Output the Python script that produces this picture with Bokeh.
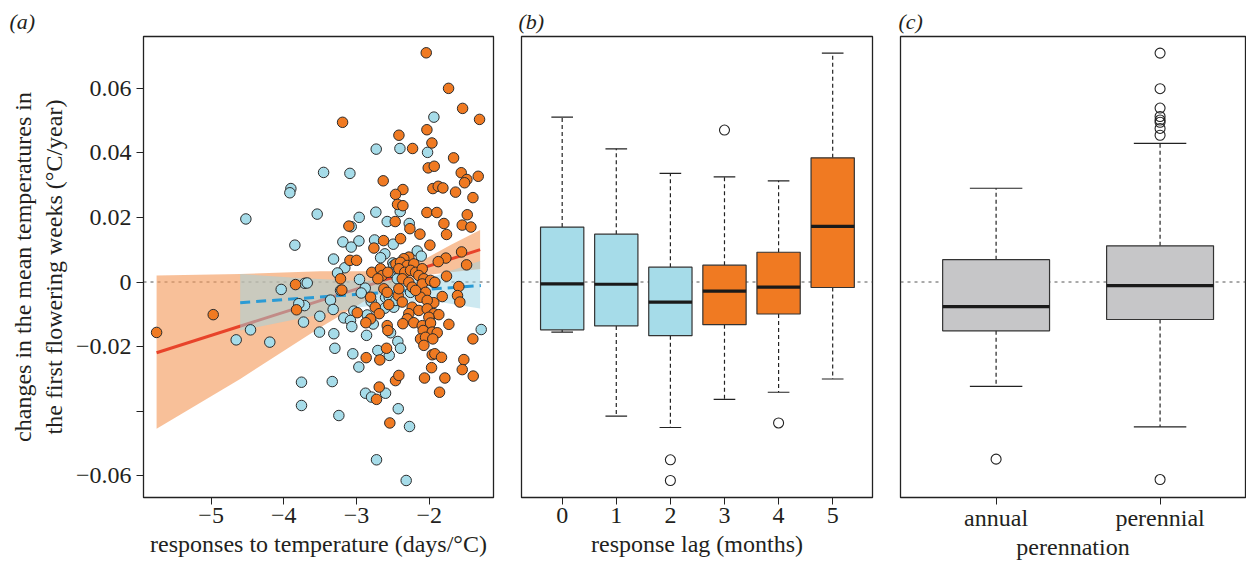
from bokeh.plotting import figure
from bokeh.layouts import row
from bokeh.models import Range1d, FixedTicker, Span, Title
from bokeh.embed import file_html
from bokeh.resources import INLINE

# ---------------- panel (a) data ----------------
orange_x = [-2.041, -1.734, -1.541, -1.308, -3.192, -2.032, -1.963, -2.417, -2.229, -1.665,
            -2.014, -1.931, -1.560, -1.482, -1.514, -1.326, -2.633, -2.362, -2.463, -1.950,
            -1.876, -1.812, -1.638, -1.399, -2.436, -2.362, -2.032, -1.895, -1.477, -2.468,
            -1.798, -1.546, -1.427, -3.105, -2.266, -2.128, -1.762, -2.628, -2.394, -2.761,
            -1.991, -1.555, -1.771, -1.876, -3.091, -3.000, -2.280, -1.486,
            -3.220, -3.202, -2.790, -2.670, -2.647, -2.569, -2.459, -2.707, -2.624, -2.807,
            -2.743, -2.578, -2.556, -2.688, -2.807, -2.990, -2.872, -2.578,
            -2.349, -2.395, -2.303, -2.212, -2.418, -2.336, -2.257, -2.188, -2.096, -2.143,
            -2.074, -1.762, -2.371, -2.281, -2.234, -2.096, -1.982, -1.923, -1.593, -1.611,
            -1.579, -1.821, -1.937, -2.051, -2.120, -2.028, -2.188, -2.427, -2.418, -2.371,
            -2.234, -2.143, -2.028, -1.937, -1.868, -2.005, -2.281, -2.303, -2.363, -2.212,
            -2.096, -1.982, -1.730,
            -2.569, -2.587, -2.680, -2.867, -2.688, -2.725, -2.464, -2.418, -2.542,
            -2.083, -1.959, -1.890, -2.120, -2.051, -1.951, -2.074, -1.400, -1.959, -1.923,
            -1.831, -1.524, -1.968, -1.546, -1.395, -2.065, -1.785, -1.858,
            -5.750, -4.971, -3.839, -3.825]
orange_y = [0.0709, 0.0599, 0.0537, 0.0503, 0.0494, 0.0471, 0.0430, 0.0454, 0.0413, 0.0384,
            0.0353, 0.0358, 0.0338, 0.0317, 0.0307, 0.0327, 0.0313, 0.0286, 0.0271, 0.0289,
            0.0296, 0.0291, 0.0278, 0.0261, 0.0240, 0.0236, 0.0215, 0.0215, 0.0208, 0.0187,
            0.0181, 0.0176, 0.0170, 0.0173, 0.0165, 0.0148, 0.0147, 0.0128, 0.0134, 0.0105,
            0.0114, 0.0093, 0.0074, 0.0063, 0.0067, 0.0067, 0.0077, 0.0053,
            0.0010, -0.0025, 0.0030, 0.0041, 0.0020, 0.0030, 0.0056, 0.0010, -0.0021, -0.0047,
            -0.0078, -0.0032, -0.0070, -0.0098, -0.0114, -0.0095, -0.0126, -0.0135,
            0.0072, 0.0061, 0.0051, 0.0056, 0.0041, 0.0030, 0.0036, 0.0030, 0.0041, 0.0020,
            0.0010, 0.0018, 0.0010, -0.0001, -0.0016, -0.0006, 0.0005, -0.0001, -0.0014, -0.0042,
            -0.0062, -0.0045, -0.0064, -0.0032, -0.0047, -0.0057, -0.0026, -0.0042, -0.0021, -0.0062,
            -0.0078, -0.0088, -0.0083, -0.0098, -0.0101, -0.0109, -0.0098, -0.0114, -0.0129, -0.0126,
            -0.0135, -0.0127, -0.0131,
            -0.0150, -0.0205, -0.0241, -0.0234, -0.0325, -0.0363, -0.0305, -0.0289, -0.0436,
            -0.0150, -0.0155, -0.0157, -0.0176, -0.0171, -0.0176, -0.0196, -0.0176, -0.0225, -0.0222,
            -0.0233, -0.0240, -0.0265, -0.0271, -0.0291, -0.0297, -0.0297, -0.0341,
            -0.0156, -0.0101, -0.0008, -0.0086]

blue_x = [-1.936, -2.729, -2.403, -2.023, -3.453, -3.091, -3.903, -3.917, -4.522, -3.541,
          -2.734, -2.399, -2.963, -2.578, -2.275, -3.073, -3.848, -3.188, -2.967, -2.752,
          -3.073, -2.495, -2.610, -2.669, -2.165, -2.110, -3.316, -2.500,
          -3.161, -3.261, -2.959, -3.711, -3.678, -3.220, -2.880, -2.935, -3.358, -3.715,
          -3.321, -3.505, -3.037, -3.175, -3.083, -2.853, -3.729, -3.065, -2.487, -2.509,
          -2.440, -2.440, -2.600, -2.550, -2.611, -2.487, -2.459, -2.798, -2.770,
          -2.212, -2.051, -1.937, -2.257, -2.005, -1.285,
          -3.509, -3.312, -2.862, -2.532, -2.432, -3.298, -3.051, -2.968, -2.707, -2.550,
          -3.757, -3.334, -2.876, -2.794, -2.601, -3.757, -3.243, -2.426,
          -2.395, -2.271,
          -2.725, -2.317, -4.193, -4.458, -4.655, -4.036, -3.794]
blue_y = [0.0510, 0.0411, 0.0413, 0.0401, 0.0339, 0.0336, 0.0289, 0.0276, 0.0195, 0.0210,
          0.0216, 0.0218, 0.0200, 0.0187, 0.0181, 0.0171, 0.0114, 0.0124, 0.0127, 0.0130,
          0.0108, 0.0117, 0.0087, 0.0075, 0.0096, 0.0080, 0.0071, 0.0059,
          0.0044, 0.0028, 0.0008, -0.0004, -0.0003, -0.0026, -0.0019, -0.0034, -0.0056, -0.0073,
          -0.0085, -0.0106, -0.0090, -0.0111, -0.0119, -0.0102, -0.0124, -0.0138, 0.0051, 0.0030,
          0.0041, 0.0010, -0.0048, -0.0047, -0.0081, -0.0078, -0.0057, -0.0060, -0.0130,
          0.0041, 0.0005, -0.0001, -0.0032, -0.0135, -0.0147,
          -0.0155, -0.0160, -0.0165, -0.0157, -0.0184, -0.0205, -0.0222, -0.0263, -0.0212, -0.0227,
          -0.0310, -0.0308, -0.0344, -0.0356, -0.0344, -0.0382, -0.0413, -0.0392,
          -0.0205, -0.0447,
          -0.0550, -0.0614, -0.0186, -0.0148, -0.0179, -0.0023, -0.0067]

# fitted lines and confidence bands
red_fit_x = [-5.75, -1.30]
red_fit_y = [-0.0219, 0.0100]
or_band_x = [-5.75, -4.6, -3.5, -2.8, -2.1, -1.7, -1.3]
or_band_hi = [0.0020, 0.0025, 0.0033, 0.0033, 0.0066, 0.0115, 0.0161]
or_band_lo = [-0.0454, -0.0300, -0.0141, -0.0047, 0.0020, 0.0030, 0.0040]

blue_fit_x = [-4.60, -1.29]
blue_fit_y = [-0.0064, -0.0011]
bl_band_x = [-4.6, -3.8, -3.0, -2.4, -1.9, -1.3]
bl_band_hi = [0.0025, 0.0012, 0.0004, 0.0005, 0.0020, 0.0065]
bl_band_lo = [-0.0150, -0.0114, -0.0080, -0.0061, -0.0060, -0.0082]

a_xticks = [-5, -4, -3, -2]
a_xlabels = ["\u22125", "\u22124", "\u22123", "\u22122"]
y_ticks = [-0.06, -0.04, -0.02, 0.0, 0.02, 0.04, 0.06]
y_labels = ["\u22120.06", "", "\u22120.02", "0", "0.02", "0.04", "0.06"]

# ---------------- panel (b) data ----------------
lags = ["0", "1", "2", "3", "4", "5"]
lag_colors = ["#a6dce9", "#a6dce9", "#a6dce9", "#f07a22", "#f07a22", "#f07a22"]
lag_whisk_hi = [0.0510, 0.0412, 0.0336, 0.0325, 0.0313, 0.0708]
lag_q3 = [0.0170, 0.0148, 0.0046, 0.0052, 0.0092, 0.0384]
lag_med = [-0.0006, -0.0007, -0.0062, -0.0028, -0.0016, 0.0172]
lag_q1 = [-0.0148, -0.0136, -0.0166, -0.0132, -0.0099, -0.0017]
lag_whisk_lo = [-0.0155, -0.0415, -0.0450, -0.0363, -0.0341, -0.0300]
lag_out_group = [2, 2, 3, 4]
lag_out_val = [-0.0550, -0.0614, 0.0470, -0.0436]

# ---------------- panel (c) data ----------------
per_groups = ["annual", "perennial"]
per_whisk_hi = [0.0290, 0.0429]
per_q3 = [0.0069, 0.0112]
per_med = [-0.0076, -0.0011]
per_q1 = [-0.0151, -0.0116]
per_whisk_lo = [-0.0323, -0.0448]
per_out_group = [1, 2, 2, 2, 2, 2, 2, 2, 2, 2]
per_out_val = [-0.0548, 0.0708, 0.0598, 0.0538, 0.0512, 0.0501, 0.0494, 0.0475, 0.0454, -0.0611]

FONT = "Liberation Serif"
TXT = "#231f20"
FS = "24px"
Y_RANGE = (-0.06666, 0.07594)


def base_fig(frame_w, border_left, border_right, x_start, x_end, letter, title_offset):
    p = figure(frame_width=frame_w, frame_height=461,
               min_border_left=border_left, min_border_right=border_right,
               min_border_top=36, min_border_bottom=66,
               x_range=Range1d(x_start, x_end), y_range=Range1d(*Y_RANGE),
               output_backend="svg", toolbar_location=None)
    p.title = Title(text=letter, align="left", offset=title_offset,
                    text_font=FONT, text_font_size="22px",
                    text_font_style="italic", text_color=TXT, standoff=6)
    p.grid.visible = False
    p.outline_line_color = "#222222"
    p.outline_line_width = 1.3
    p.background_fill_color = "white"
    p.border_fill_color = "white"
    for ax in p.axis:
        ax.major_tick_out = 7
        ax.major_tick_in = 0
        ax.minor_tick_line_color = None
        ax.axis_line_color = "#222222"
        ax.major_tick_line_color = "#222222"
        ax.major_label_text_font = FONT
        ax.major_label_text_font_size = FS
        ax.major_label_text_color = TXT
        ax.axis_label_text_font = FONT
        ax.axis_label_text_font_size = FS
        ax.axis_label_text_font_style = "normal"
        ax.axis_label_text_color = TXT
    p.xaxis.major_label_standoff = 3
    p.xaxis.axis_label_standoff = 5
    zero = Span(location=0, dimension="width", line_color="#555555",
                line_dash="3 4", line_width=1, level="underlay")
    p.add_layout(zero)
    return p


# ---------------- panel (a) ----------------
pa = base_fig(350, 143, 14, -5.930, -1.116, "(a)", -134)
pa.xaxis.ticker = FixedTicker(ticks=a_xticks)
pa.xaxis.major_label_overrides = dict(zip(a_xticks, a_xlabels))
pa.xaxis.axis_label = "responses to temperature (days/\u00b0C)"
pa.yaxis.ticker = FixedTicker(ticks=y_ticks)
pa.yaxis.major_label_overrides = dict(zip(y_ticks, y_labels))
pa.yaxis.major_label_standoff = 5
pa.yaxis.axis_label = "changes in the mean temperatures in\nthe first flowering weeks (\u00b0C/year)"
pa.yaxis.axis_label_standoff = 6

pa.varea(x=or_band_x, y1=or_band_lo, y2=or_band_hi, fill_color="#f39a5a", fill_alpha=0.62)
pa.line(red_fit_x, red_fit_y, line_color="#e8432a", line_width=3)
pa.varea(x=bl_band_x, y1=bl_band_lo, y2=bl_band_hi, fill_color="#9cd3e3", fill_alpha=0.5)
pa.line(blue_fit_x, blue_fit_y, line_color="#2a9bd5", line_width=3, line_dash="10 6")
pa.scatter(blue_x, blue_y, size=10.5, fill_color="#a6dce9", line_color="#2b2b2b", line_width=1)
pa.scatter(orange_x, orange_y, size=10.5, fill_color="#f07a22", line_color="#2b2b2b", line_width=1)


def boxes(p, pos, hi, q3, med, q1, lo, colors, box_w, cap_w, out_pos, out_val):
    half = box_w / 2.0
    cap = cap_w / 2.0
    p.segment(x0=pos, y0=q3, x1=pos, y1=hi, line_color="#222222", line_width=1.2, line_dash="4 3")
    p.segment(x0=pos, y0=q1, x1=pos, y1=lo, line_color="#222222", line_width=1.2, line_dash="4 3")
    p.segment(x0=[x - cap for x in pos], y0=hi, x1=[x + cap for x in pos], y1=hi,
              line_color="#222222", line_width=1.2)
    p.segment(x0=[x - cap for x in pos], y0=lo, x1=[x + cap for x in pos], y1=lo,
              line_color="#222222", line_width=1.2)
    p.vbar(x=pos, width=box_w, top=q3, bottom=q1, fill_color=colors,
           line_color="#333333", line_width=1.2)
    p.segment(x0=[x - half for x in pos], y0=med, x1=[x + half for x in pos], y1=med,
              line_color="#1a1a1a", line_width=3.2)
    p.scatter(out_pos, out_val, size=10, fill_color=None, line_color="#222222", line_width=1.1)


# ---------------- panel (b) ----------------
pb = base_fig(351, 14, 14, -0.752, 5.736, "(b)", -3)
pb.yaxis.visible = False
lag_pos = list(range(len(lags)))
pb.xaxis.ticker = FixedTicker(ticks=lag_pos)
pb.xaxis.major_label_overrides = dict(zip(lag_pos, lags))
pb.xaxis.axis_label = "response lag (months)"
boxes(pb, lag_pos, lag_whisk_hi, lag_q3, lag_med, lag_q1, lag_whisk_lo, lag_colors,
      0.8, 0.4, lag_out_group, lag_out_val)

# ---------------- panel (c) ----------------
pc = base_fig(345, 14, 1, 0.417, 2.521, "(c)", -2)
pc.yaxis.visible = False
per_pos = [1, 2]
pc.xaxis.ticker = FixedTicker(ticks=per_pos)
pc.xaxis.major_label_overrides = dict(zip(per_pos, per_groups))
pc.xaxis.major_label_standoff = 0
pc.xaxis.axis_label_standoff = 0
pc.xaxis.axis_label = "perennation"
boxes(pc, per_pos, per_whisk_hi, per_q3, per_med, per_q1, per_whisk_lo,
      ["#c6c6c8", "#c6c6c8"], 0.652, 0.32, per_out_group, per_out_val)

layout = row(pa, pb, pc)
open("out.html", "w").write(file_html(layout, INLINE))
